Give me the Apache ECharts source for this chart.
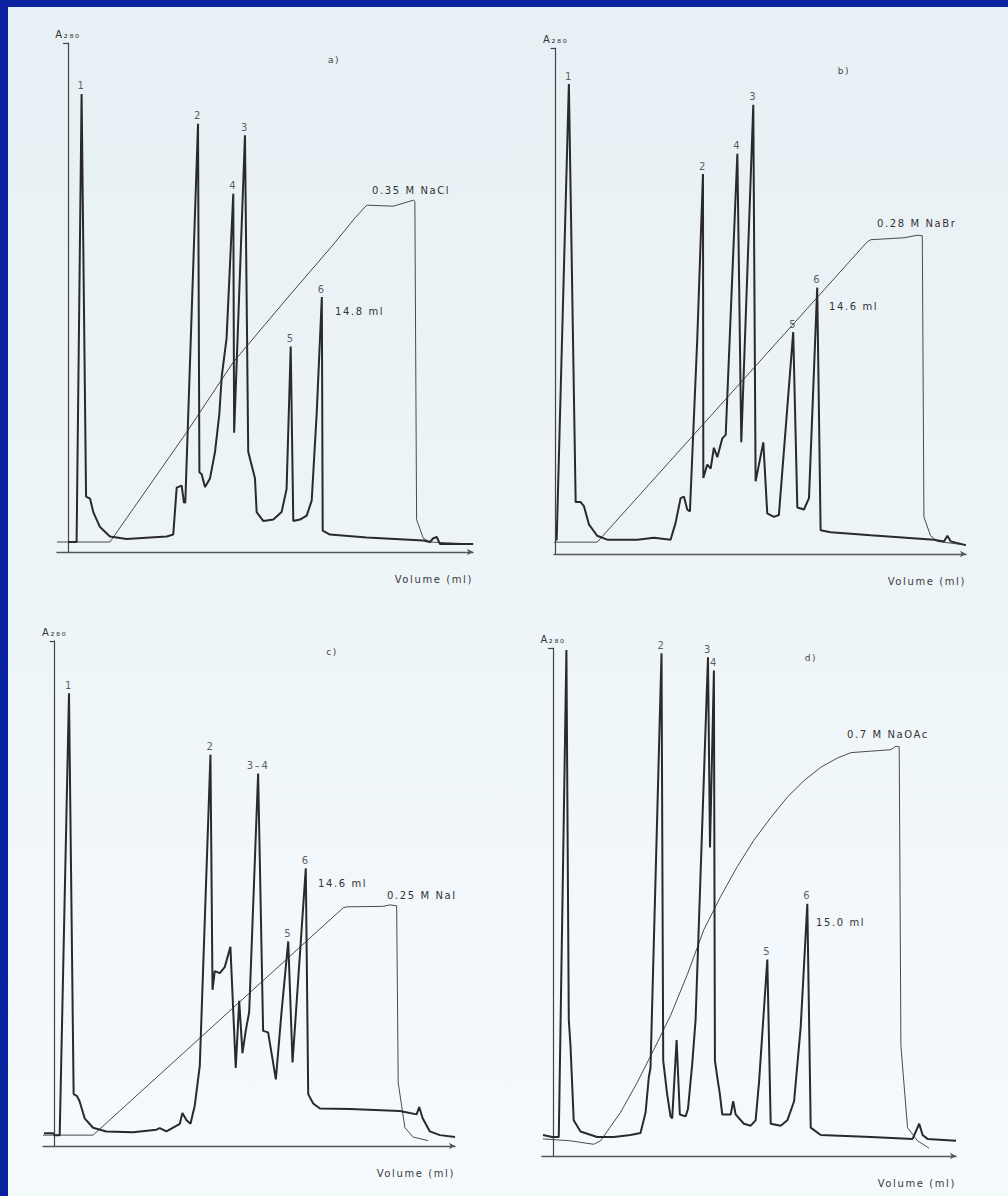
<!DOCTYPE html>
<html>
<head>
<meta charset="utf-8">
<script src="https://cdn.jsdelivr.net/npm/echarts@6/dist/echarts.min.js"></script>
<style>
html, body { margin: 0; padding: 0; width: 1008px; height: 1196px; background: #0a22a0; overflow: hidden; }
#paper { position: absolute; left: 8px; top: 7px; width: 1000px; height: 1189px; background: linear-gradient(#e7f0f4, #f5fafd); }
#chart { position: absolute; left: 0; top: 0; width: 1008px; height: 1196px; }
#chart text { letter-spacing: 1.6px; }
</style>
</head>
<body>
<div id="paper"></div>
<div id="chart"></div>
<script>
// volume in ml (0 = injection mark), absorbance in % of the scale bar

// a) NaCl gradient
const absA = [[0,0],[0.5,0],[0.79,89.8],[1.05,9.1],[1.28,8.7],[1.47,6.0],[1.86,3.0],[2.44,1.1],[3.41,0.6],[4.77,0.9],[5.74,1.1],[6.12,1.5],[6.32,10.9],[6.61,11.3],[6.74,7.9],[6.82,7.9],[7.56,83.8],[7.64,14.0],[7.77,13.6],[7.97,11.0],[8.26,12.8],[8.55,18.1],[8.80,25.7],[8.94,33.2],[9.22,40.8],[9.61,69.8],[9.66,21.9],[10.29,81.5],[10.48,18.1],[10.87,12.8],[10.97,6.0],[11.36,4.2],[11.94,4.5],[12.42,6.0],[12.71,10.6],[12.95,39.2],[13.10,4.2],[13.49,4.5],[13.88,5.3],[14.17,8.3],[14.46,25.7],[14.76,49.1],[14.81,2.3],[15.23,1.5],[17.37,0.9],[20.66,0.3],[21.05,0],[21.24,0.75],[21.44,1.0],[21.63,-0.4],[23.56,-0.4]]
const gradA = [[-0.64,0],[2.44,0],[6.9,22],[9.6,36],[12.9,49.5],[15.4,59.5],[16.7,65],[17.37,67.5],[18.91,67.3],[19.5,67.9],[20.08,68.5],[20.17,68.3],[20.27,4.5],[20.66,0.75],[21.05,0],[23.56,-0.4]]
const peaksA = [[0.79,89.8,'1'],[7.56,83.8,'2'],[10.29,81.5,'3'],[9.61,69.8,'4'],[12.95,39.2,'5'],[14.76,49.1,'6']]

// b) NaBr gradient
const absB = [[0,0.5],[0.06,0.5],[0.74,92.7],[1.12,8.1],[1.40,8.1],[1.58,7.3],[1.86,3.6],[2.32,1.3],[2.88,0.5],[4.56,0.5],[5.49,0.9],[6.42,0.5],[6.70,3.9],[6.98,8.9],[7.17,9.2],[7.35,6.6],[7.50,6.2],[7.91,41.0],[8.23,74.5],[8.25,13.0],[8.47,15.7],[8.66,14.9],[8.84,19.1],[9.03,17.2],[9.31,21.0],[9.50,21.7],[10.15,78.6],[10.37,20.2],[11.04,88.5],[11.17,12.3],[11.60,20.2],[11.82,5.8],[12.19,5.1],[12.47,5.5],[13.27,42.5],[13.50,7.0],[13.87,6.6],[14.15,8.9],[14.61,51.5],[14.80,2.4],[15.36,2.0],[17.60,1.4],[21.13,0.5],[21.69,0.15],[21.88,1.3],[22.07,0.15],[22.91,-0.6]]
const gradB = [[-0.09,0],[2.32,0],[17.41,60.8],[17.60,61.2],[19.46,61.6],[20.20,62.1],[20.48,62.0],[20.57,5.1],[20.94,1.3],[21.32,0.15],[22.91,-0.6]]
const peaksB = [[0.74,92.7,'1'],[8.23,74.5,'2'],[11.04,88.5,'3'],[10.15,78.6,'4'],[13.27,42.5,'5'],[14.61,51.5,'6']]

// c) NaI gradient
const absC = [[-0.62,0.4],[-0.10,0.4],[0,0],[0.29,0],[0.83,89.4],[1.10,8.3],[1.30,7.9],[1.45,6.8],[1.74,3.4],[2.23,1.5],[3.00,0.75],[4.55,0.6],[5.91,1.1],[6.10,1.4],[6.49,0.75],[7.27,2.3],[7.42,4.5],[7.66,3.0],[7.89,2.3],[8.14,6.0],[8.43,14.0],[8.62,33.2],[9.05,77.0],[9.17,29.4],[9.30,33.2],[9.59,32.8],[9.88,34.0],[10.21,38.1],[10.52,13.6],[10.72,27.2],[10.91,16.6],[11.10,21.1],[11.30,24.9],[11.82,73.2],[12.11,21.1],[12.40,20.8],[12.60,16.6],[12.85,11.3],[13.18,24.9],[13.57,39.2],[13.82,14.7],[14.59,54.0],[14.73,8.3],[15.02,6.4],[15.41,5.4],[17.15,5.3],[20.06,4.9],[21.03,4.2],[21.18,5.7],[21.38,3.4],[21.80,0.75],[22.38,0],[23.26,-0.4]]
const gradC = [[-0.68,0],[2.23,0],[16.76,46.0],[16.96,46.2],[19.09,46.3],[19.48,46.6],[19.87,46.4],[19.96,10.6],[20.35,1.5],[20.83,-0.4],[21.70,-1.1]]
const peaksC = [[0.83,89.4,'1'],[9.05,77.0,'2'],[11.82,73.2,'3–4'],[13.57,39.2,'5'],[14.59,54.0,'6']]

// d) NaOAc gradient
const absD = [[-0.59,0.4],[-0.05,0],[0.34,0],[0.79,99.6],[0.93,24.0],[1.03,18.7],[1.22,3.4],[1.62,1.1],[2.60,0],[3.59,0],[4.57,0.4],[5.16,0.8],[5.46,5.0],[5.65,12.2],[5.75,14.1],[6.40,98.9],[6.50,15.6],[6.73,8.8],[6.93,4.2],[7.03,3.8],[7.29,19.8],[7.48,4.6],[7.82,4.2],[7.96,5.7],[8.21,14.9],[8.41,24.0],[9.14,98.1],[9.26,59.2],[9.49,95.4],[9.55,15.6],[9.69,12.2],[9.84,8.8],[9.98,4.6],[10.48,4.6],[10.63,7.3],[10.77,4.6],[11.26,2.7],[11.66,2.3],[11.95,3.4],[12.15,11.1],[12.64,36.3],[12.84,2.7],[13.43,2.3],[13.82,3.4],[14.22,7.3],[14.61,22.5],[15.0,47.7],[15.20,1.9],[15.79,0.4],[18.75,0],[21.21,-0.4],[21.50,1.9],[21.60,2.7],[21.80,0.4],[22.09,-0.4],[23.77,-0.8]]
const gradD = [[-0.59,-0.4],[1.03,-0.8],[2.40,-1.5],[2.80,-0.8],[3.98,5.0],[4.96,11.1],[5.95,17.9],[6.93,24.8],[7.92,33.2],[8.90,42.4],[9.89,49.2],[10.87,55.3],[11.85,60.7],[12.84,65.3],[13.82,69.5],[14.81,72.9],[15.79,75.6],[16.78,77.5],[17.57,78.6],[18.75,78.9],[19.93,79.2],[20.22,79.9],[20.42,79.8],[20.52,18.7],[20.91,1.9],[21.50,-0.8],[22.19,-2.3]]
const peaksD = [[6.40,98.9,'2'],[9.14,98.1,'3'],[9.49,95.4,'4'],[12.64,36.3,'5'],[15.0,47.7,'6']]

// axis extents (ml / %)
const xRanges = [[-0.64, 23.55], [-0.09, 22.92], [-0.68, 23.26], [-0.65, 23.77]]
const yRanges = [[-2.0, 100], [-2.4, 100], [-2.2, 100], [-3.9, 100]]

const panelTexts = [
  { letter: 'a)', salt: '0.35 M NaCl', vol: '14.8 ml' },
  { letter: 'b)', salt: '0.28 M NaBr', vol: '14.6 ml' },
  { letter: 'c)', salt: '0.25 M NaI', vol: '14.6 ml' },
  { letter: 'd)', salt: '0.7 M NaOAc', vol: '15.0 ml' }
]

// layout (pixels)
const grids = [
  { left: 57, top: 43, width: 416, height: 509 },
  { left: 554, top: 48, width: 412, height: 506 },
  { left: 43, top: 641, width: 412, height: 505 },
  { left: 542, top: 648, width: 414, height: 508 }
]
const textPos = [
  { letter: [334, 60], salt: [372, 190], vol: [335, 311] },
  { letter: [844, 71], salt: [877, 223], vol: [829, 306] },
  { letter: [332, 652], salt: [387, 895], vol: [318, 883] },
  { letter: [811, 658], salt: [847, 734], vol: [816, 922] }
]

const INK = '#2a2a2a'
const FONT = 'DejaVu Sans'
const absData = [absA, absB, absC, absD]
const gradData = [gradA, gradB, gradC, gradD]
const peakData = [peaksA, peaksB, peaksC, peaksD]

const chart = echarts.init(document.getElementById('chart'), null, { renderer: 'svg' })

const xAxis = grids.map((g, i) => ({
  type: 'value', gridIndex: i, min: xRanges[i][0], max: xRanges[i][1],
  splitLine: { show: false }, axisTick: { show: false }, axisLabel: { show: false },
  axisLine: { onZero: false, symbol: ['none', 'arrow'], symbolSize: [5, 6], lineStyle: { color: '#555', width: 1.4 } },
  name: 'Volume (ml)', nameLocation: 'end', nameGap: 0,
  nameTextStyle: { align: 'right', verticalAlign: 'top', padding: [22, 0, 0, 0], fontFamily: FONT, fontSize: 10, color: '#3a3a3a' }
}))

const yAxis = grids.map((g, i) => ({
  type: 'value', gridIndex: i, min: yRanges[i][0], max: yRanges[i][1],
  splitLine: { show: false }, axisLabel: { show: false },
  axisTick: { show: true, customValues: [100], length: 5, lineStyle: { color: '#444', width: 1.2 } },
  axisLine: { show: true, onZero: true, lineStyle: { color: '#444', width: 1.2 } },
  name: 'A₂₈₀', nameLocation: 'end', nameGap: 4,
  nameTextStyle: { fontFamily: FONT, fontSize: 10, color: '#333' }
}))

const series = []
grids.forEach((g, i) => {
  series.push({
    type: 'line', xAxisIndex: i, yAxisIndex: i, data: gradData[i],
    showSymbol: false, symbol: 'none', lineStyle: { color: '#4a4a4a', width: 1 }, z: 2
  })
  series.push({
    type: 'line', xAxisIndex: i, yAxisIndex: i, data: absData[i],
    showSymbol: false, symbol: 'none', lineStyle: { color: INK, width: 2 }, z: 3
  })
  series.push({
    type: 'scatter', xAxisIndex: i, yAxisIndex: i, symbolSize: 0,
    data: peakData[i].map(p => ({ value: [p[0], p[1]], name: p[2] })),
    label: { show: true, position: 'top', distance: 3, formatter: '{b}', fontFamily: FONT, fontSize: 10, color: '#333' },
    z: 4
  })
})

const graphic = []
textPos.forEach((p, i) => {
  graphic.push({ type: 'text', x: p.letter[0], y: p.letter[1],
    style: { text: panelTexts[i].letter, font: '9px ' + FONT, fill: '#444', align: 'center', verticalAlign: 'middle' } })
  graphic.push({ type: 'text', x: p.salt[0], y: p.salt[1],
    style: { text: panelTexts[i].salt, font: '10px ' + FONT, fill: '#333', align: 'left', verticalAlign: 'middle' } })
  graphic.push({ type: 'text', x: p.vol[0], y: p.vol[1],
    style: { text: panelTexts[i].vol, font: '10px ' + FONT, fill: '#333', align: 'left', verticalAlign: 'middle' } })
})

chart.setOption({
  backgroundColor: 'transparent',
  animation: false,
  grid: grids,
  xAxis,
  yAxis,
  series,
  graphic
})
</script>
</body>
</html>
